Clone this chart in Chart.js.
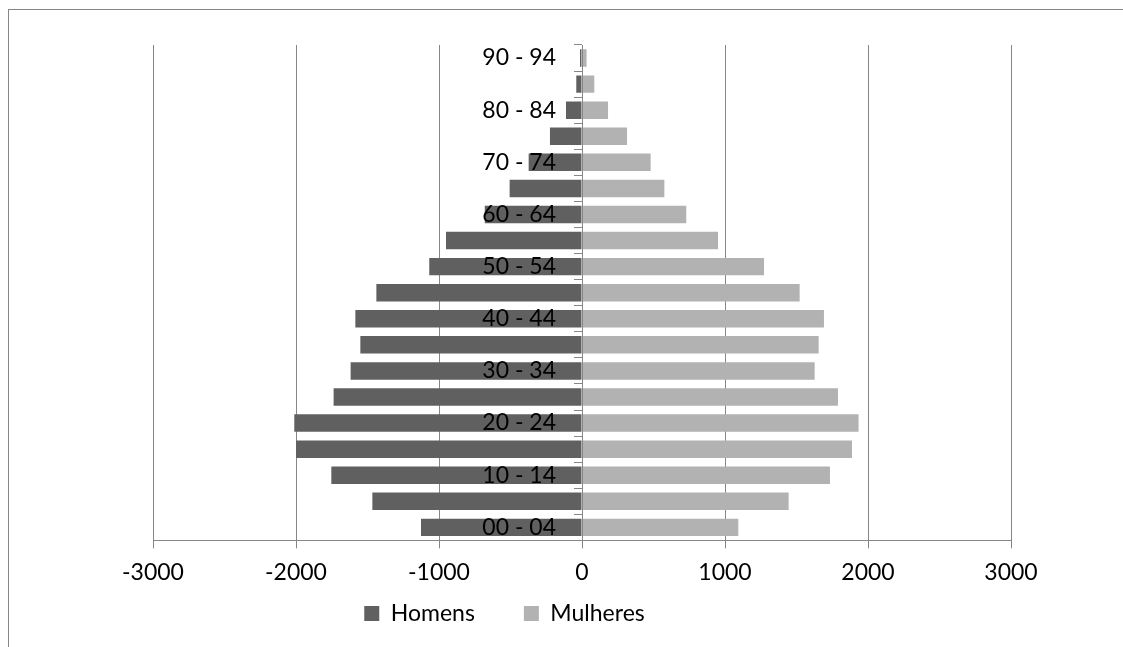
<!DOCTYPE html>
<html lang="pt">
<head>
    <meta charset="UTF-8">
    <title>Pirâmide etária</title>
    <style>
        body {
            margin: 0;
            padding: 0;
            background-color: #fff;
        }
        .frame {
            position: absolute;
            left: 8px;
            top: 9px;
            width: 1115px;
            height: 638px;
            border-left: 1px solid #868686;
            border-top: 1px solid #868686;
        }
        #chart-container {
            position: absolute;
            left: 0;
            top: 0;
            width: 1123px;
            height: 647px;
        }
    </style>
</head>
<body>
    <div class="frame"></div>
    <div id="chart-container">
        <canvas id="pyramidChart" width="1123" height="647"></canvas>
    </div>

    <script src="https://cdn.jsdelivr.net/npm/chart.js"></script>

    <script>
        // Faixas etárias (de baixo para cima)
        const ages = ['00 - 04', '05 - 09', '10 - 14', '15 - 19', '20 - 24', '25 - 29', '30 - 34',
            '35 - 39', '40 - 44', '45 - 49', '50 - 54', '55 - 59', '60 - 64', '65 - 69',
            '70 - 74', '75 - 79', '80 - 84', '85 - 89', '90 - 94'];

        // Homens ficam negativos para desenhar à esquerda
        const homens = [-1126, -1466, -1753, -2000, -2012, -1737, -1618, -1550, -1585, -1438,
            -1068, -951, -680, -506, -373, -224, -112, -40, -14];
        const mulheres = [1093, 1445, 1734, 1888, 1934, 1790, 1627, 1655, 1692, 1522,
            1273, 951, 729, 576, 480, 315, 182, 86, 32];

        const xTicks = [-3000, -2000, -1000, 0, 1000, 2000, 3000];

        const axisGray = '#868686';
        const fontFamily = 'Lato, "Open Sans", sans-serif';

        // Legend sits a bit left of centre and a bit higher than Chart.js puts it
        const legendShift = {
            id: 'legendShift',
            afterLayout(chart) {
                const lg = chart.legend;
                lg.left = 8;
                lg.right = 1001;
                lg.top = 553;
                lg.bottom = 647;
            }
        };

        // Category labels at x=0 need some room from the axis line
        const yLabelShift = {
            id: 'yLabelShift',
            beforeDraw(chart) {
                const items = chart.scales.y.getLabelItems();
                if (items._shifted) return;
                items.forEach(it => { it.options.translation[0] -= 26; });
                items._shifted = true;
            }
        };

        const ctx = document.getElementById('pyramidChart').getContext('2d');
        new Chart(ctx, {
            type: 'bar',
            data: {
                labels: ages,
                datasets: [
                    {
                        label: 'Homens',
                        data: homens,
                        backgroundColor: '#606060',
                        borderWidth: 0
                    },
                    {
                        label: 'Mulheres',
                        data: mulheres,
                        backgroundColor: '#b2b2b2',
                        borderWidth: 0
                    }
                ]
            },
            options: {
                indexAxis: 'y',
                responsive: false,
                animation: false,
                layout: {
                    padding: { left: 153, right: 112, top: 45, bottom: 8 }
                },
                plugins: {
                    legend: {
                        position: 'bottom',
                        maxHeight: 43,
                        labels: {
                            boxWidth: 15,
                            boxHeight: 15,
                            padding: 49,
                            color: '#000',
                            font: { family: fontFamily, size: 23 }
                        }
                    },
                    tooltip: { enabled: false }
                },
                scales: {
                    x: {
                        type: 'linear',
                        min: -3000,
                        max: 3000,
                        afterBuildTicks: (scale) => {
                            scale.ticks = xTicks.map(v => ({ value: v }));
                        },
                        grid: {
                            color: axisGray,
                            lineWidth: 1,
                            tickLength: 8,
                            drawTicks: true
                        },
                        border: { display: true, color: axisGray },
                        ticks: {
                            color: '#000',
                            padding: 10,
                            font: { family: fontFamily, size: 23 },
                            callback: (value) => String(value)
                        }
                    },
                    y: {
                        type: 'category',
                        stacked: true,
                        reverse: true,
                        position: { x: 0 },
                        grid: {
                            offset: true,
                            drawOnChartArea: false,
                            drawTicks: true,
                            tickLength: 8,
                            color: axisGray,
                            z: 1
                        },
                        border: { display: true, color: axisGray, z: 1 },
                        ticks: {
                            autoSkip: false,
                            color: '#000',
                            z: 1,
                            font: { family: fontFamily, size: 23 },
                            callback: function (value, index) {
                                return index % 2 === 0 ? this.getLabelForValue(value) : '';
                            }
                        }
                    }
                },
                datasets: {
                    bar: {
                        categoryPercentage: 1.0,
                        barPercentage: 0.67
                    }
                }
            },
            plugins: [legendShift, yLabelShift]
        });
    </script>
</body>
</html>
